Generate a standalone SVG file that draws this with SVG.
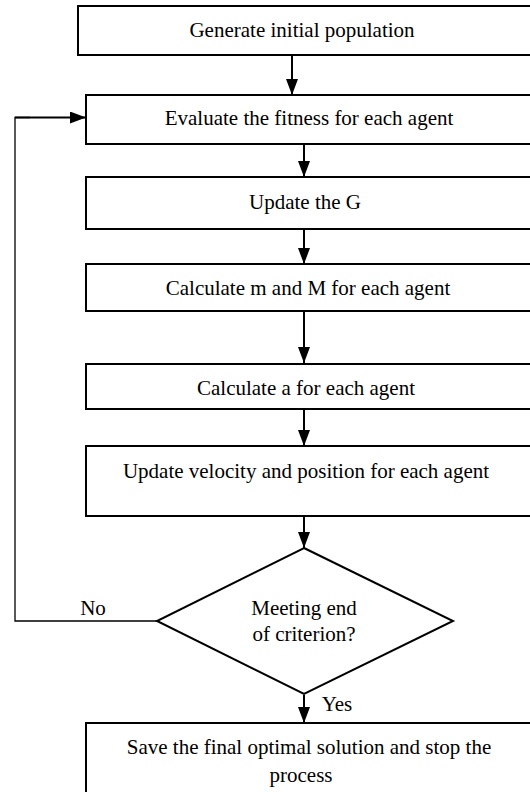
<svg xmlns="http://www.w3.org/2000/svg" width="530" height="792" viewBox="0 0 530 792">
<style>
.box{fill:#fff;stroke:#000;stroke-width:2}
.t{font-family:"Liberation Serif","Times New Roman",serif;font-size:21px;fill:#000;text-anchor:middle}
.c{stroke:#000;stroke-width:2;fill:none}
.thin{stroke:#000;stroke-width:1.3;fill:none}
</style>
<defs>
<marker id="ah" markerUnits="userSpaceOnUse" markerWidth="16" markerHeight="12" refX="16" refY="6" orient="auto" viewBox="0 0 16 12">
<path d="M0,0 L16,6 L0,12 Z" fill="#000"/>
</marker>
</defs>
<g id="connectors">
<line class="c" x1="292" y1="55" x2="292" y2="95" marker-end="url(#ah)"/>
<line class="c" x1="304" y1="144" x2="304" y2="177" marker-end="url(#ah)"/>
<line class="c" x1="304" y1="229" x2="304" y2="264" marker-end="url(#ah)"/>
<line class="c" x1="304" y1="311" x2="304" y2="363" marker-end="url(#ah)"/>
<line class="c" x1="304" y1="409" x2="304" y2="446" marker-end="url(#ah)"/>
<line class="c" x1="304" y1="516" x2="304" y2="548" marker-end="url(#ah)"/>
<line class="c" x1="304" y1="695" x2="304" y2="723" marker-end="url(#ah)"/>
<polyline class="thin" points="157,621 15,621 15,117.5 30,117.5"/>
<line class="c" x1="15" y1="117.5" x2="86" y2="117.5" marker-end="url(#ah)"/>
<text class="t" x="93" y="615">No</text>
<text class="t" x="337" y="711">Yes</text>
</g>
<g id="n1">
<rect class="box" x="78" y="6" width="470" height="49"/>
<text class="t" x="302" y="37">Generate initial population</text>
</g>
<g id="n2">
<rect class="box" x="86" y="95" width="470" height="49"/>
<text class="t" x="309" y="125">Evaluate the fitness for each agent</text>
</g>
<g id="n3">
<rect class="box" x="86" y="177" width="470" height="52"/>
<text class="t" x="305" y="209">Update the G</text>
</g>
<g id="n4">
<rect class="box" x="86" y="264" width="470" height="47"/>
<text class="t" x="308" y="295">Calculate m and M for each agent</text>
</g>
<g id="n5">
<rect class="box" x="86" y="364" width="470" height="45"/>
<text class="t" x="306" y="395">Calculate a for each agent</text>
</g>
<g id="n6">
<rect class="box" x="86" y="446" width="470" height="70"/>
<text class="t" x="306" y="478">Update velocity and position for each agent</text>
</g>
<g id="n7">
<polygon class="box" points="304,548 453,621 304,694 157,621"/>
<text class="t" x="304" y="615">Meeting end</text>
<text class="t" x="304" y="641">of criterion?</text>
</g>
<g id="n8">
<rect class="box" x="86" y="723" width="470" height="90"/>
<text class="t" x="309" y="754">Save the final optimal solution and stop the</text>
<text class="t" x="301" y="782">process</text>
</g>
</svg>
